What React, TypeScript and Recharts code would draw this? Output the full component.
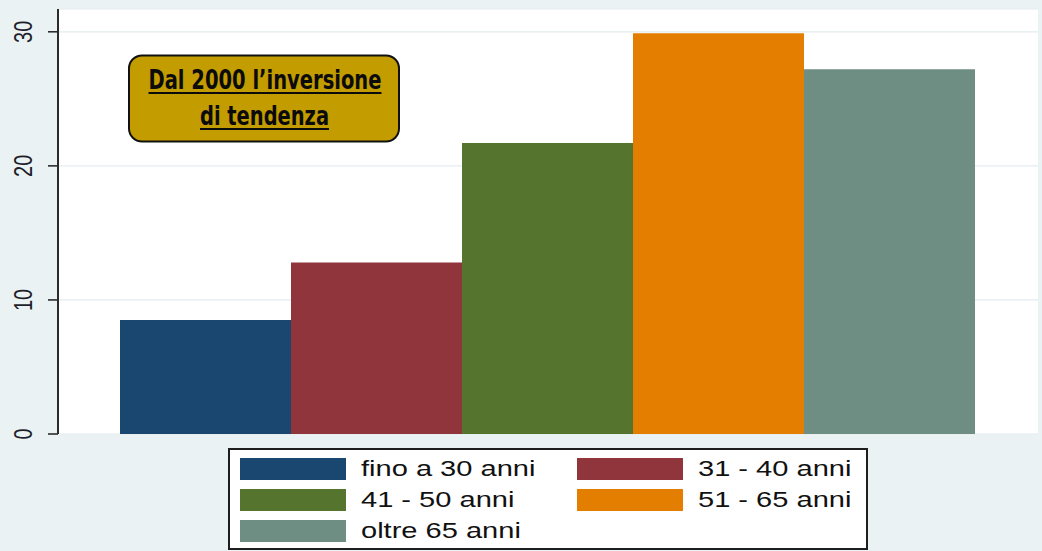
import React from "react";
import { BarChart, Bar, XAxis, YAxis, CartesianGrid, Legend } from "recharts";

// ---- data ----
const categories = ["Età"];
const seriesNames = ["fino a 30 anni", "31 - 40 anni", "41 - 50 anni", "51 - 65 anni", "oltre 65 anni"];
const seriesValues = [8.5, 12.8, 21.7, 29.9, 27.2];
const seriesColors = ["#1a476f", "#90353b", "#55752f", "#e37e00", "#6e8e84"];
const yTicks = [0, 10, 20, 30];
const yMax = 31.7;
const noteLines = ["Dal 2000 l’inversione", "di tendenza"];

const data = categories.map((c) => {
  const row: Record<string, string | number> = { name: c };
  seriesNames.forEach((_, i) => {
    row[`s${i}`] = seriesValues[i];
  });
  return row;
});

const BG = "#eaf2f3";
const AXIS = "#2b2b2b";
const FONT = "'Liberation Sans', Arial, sans-serif";

const YTick = (props: any) => {
  const { y, payload } = props;
  return (
    <text
      transform={`translate(22.5,${y}) scale(1.33,1) rotate(-90)`}
      textAnchor="middle"
      dy="0.36em"
      fontSize={20}
      fontFamily={FONT}
      fill="#1e1e2a"
    >
      {payload.value}
    </text>
  );
};

const LegendBox = (props: any) => {
  const payload = [...(props.payload || [])].sort(
    (a: any, b: any) => seriesNames.indexOf(a.value) - seriesNames.indexOf(b.value)
  );
  return (
    <div
      style={{
        position: "relative",
        width: 640,
        height: 102,
        boxSizing: "border-box",
        border: "2px solid #1e1e1e",
        background: "#ffffff",
      }}
    >
      {payload.map((p: any, i: number) => {
        const col = i % 2;
        const row = Math.floor(i / 2);
        const left = 10 + col * 336.5;
        const top = 8 + row * 31;
        return (
          <div key={i} style={{ position: "absolute", left, top, height: 22, width: 330 }}>
            <div
              style={{
                position: "absolute",
                left: 0,
                top: 0,
                width: 106,
                height: 22,
                background: p.color,
              }}
            />
            <span
              style={{
                position: "absolute",
                left: 121,
                top: -1,
                fontFamily: FONT,
                fontSize: 22,
                lineHeight: "24px",
                color: "#111",
                whiteSpace: "nowrap",
                transform: "scaleX(1.32)",
                transformOrigin: "left center",
              }}
            >
              {p.value}
            </span>
          </div>
        );
      })}
    </div>
  );
};

export default function App() {
  return (
    <div
      style={{
        position: "fixed",
        left: 0,
        top: 0,
        width: 1042,
        height: 551,
        background: BG,
        overflow: "hidden",
      }}
    >
      <BarChart
        width={1042}
        height={551}
        data={data}
        margin={{ top: 9, right: 4, bottom: 117, left: 0 }}
        barCategoryGap={62}
        barGap={0}
      >
        <CartesianGrid vertical={false} stroke="#e3ecef" strokeWidth={1.2} fill="#ffffff" />
        <XAxis
          dataKey="name"
          tick={false}
          tickLine={false}
          height={0}
          axisLine={{ stroke: AXIS, strokeWidth: 2 }}
        />
        <YAxis
          width={58}
          domain={[0, yMax]}
          ticks={yTicks}
          allowDataOverflow
          tickSize={10}
          tickLine={{ stroke: AXIS, strokeWidth: 1.6 }}
          axisLine={{ stroke: AXIS, strokeWidth: 2 }}
          tick={<YTick />}
        />
        <Legend
          layout="horizontal"
          verticalAlign="middle"
          align="center"
          itemSorter={null as any}
          wrapperStyle={{ top: 448, left: 228, width: 640, height: 102 }}
          content={<LegendBox />}
        />
        {seriesNames.map((n, i) => (
          <Bar
            key={n}
            dataKey={`s${i}`}
            name={n}
            fill={seriesColors[i]}
            isAnimationActive={false}
          />
        ))}
      </BarChart>
      <svg
        width={1042}
        height={551}
        style={{ position: "absolute", left: 0, top: 0, pointerEvents: "none" }}
      >
        <rect x={129} y={55.5} width={270} height={86} rx={13} ry={13} fill="#c39c00" stroke="#111" strokeWidth={2} />
        <text
          x={265}
          y={89}
          textAnchor="middle"
          fontFamily="'DejaVu Sans Condensed', 'DejaVu Sans', sans-serif"
          fontWeight="bold"
          fontSize={26}
          textLength={233}
          lengthAdjust="spacingAndGlyphs"
          fill="#0b0b0b"
        >
          {noteLines[0]}
        </text>
        <line x1={148.5} x2={381.5} y1={93} y2={93} stroke="#0b0b0b" strokeWidth={2} />
        <text
          x={264.5}
          y={125}
          textAnchor="middle"
          fontFamily="'DejaVu Sans Condensed', 'DejaVu Sans', sans-serif"
          fontWeight="bold"
          fontSize={26}
          textLength={129}
          lengthAdjust="spacingAndGlyphs"
          fill="#0b0b0b"
        >
          {noteLines[1]}
        </text>
        <line x1={200} x2={329} y1={129} y2={129} stroke="#0b0b0b" strokeWidth={2} />
      </svg>
    </div>
  );
}
